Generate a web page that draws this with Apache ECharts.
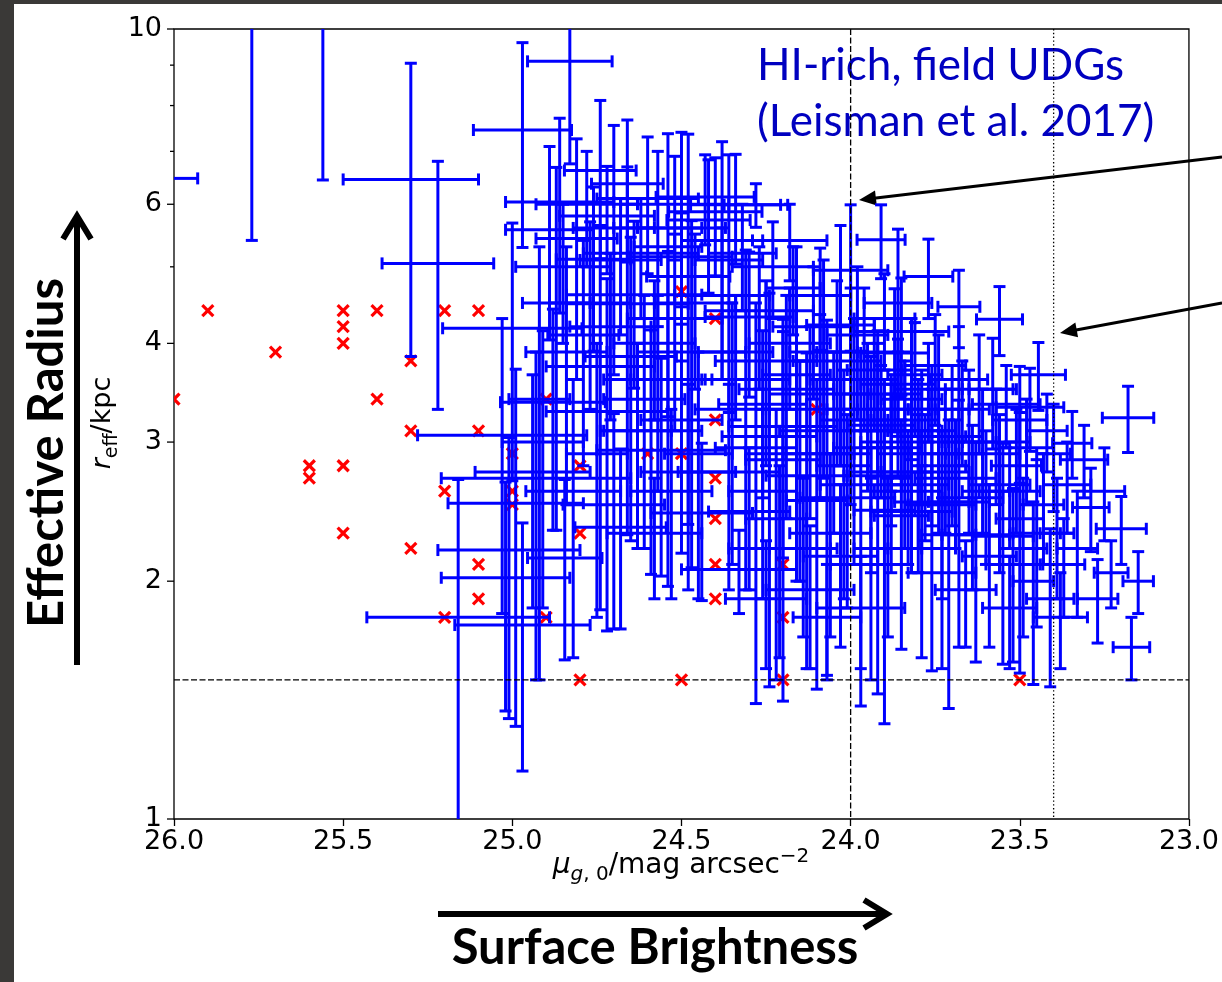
<!DOCTYPE html>
<html>
<head>
<meta charset="utf-8">
<script src="https://cdn.jsdelivr.net/npm/echarts@6/dist/echarts.min.js"></script>
<style>
  html, body { margin: 0; padding: 0; background: #fff; }
  #chart { width: 1222px; height: 982px; }
</style>
</head>
<body>
<div id="chart"></div>
<script>
// Cluster UDGs: [mu_g0 (mag/arcsec^2), r_eff (kpc)]
const clusterPoints = [
  [26.0, 3.4], [25.9, 4.4], [25.7, 3.9], [25.6, 2.8], [25.6, 2.7],
  [25.5, 4.4], [25.5, 4.2], [25.5, 4.0], [25.5, 2.8], [25.5, 2.3],
  [25.4, 4.4], [25.4, 3.4], [25.3, 3.8], [25.3, 3.1], [25.3, 2.2],
  [25.2, 4.4], [25.2, 2.6], [25.2, 1.8], [25.1, 4.4], [25.1, 3.1],
  [25.1, 2.1], [25.1, 1.9], [25.0, 2.9], [25.0, 2.6], [25.0, 2.5],
  [24.9, 3.4], [24.9, 1.8], [24.8, 2.8], [24.8, 2.3], [24.8, 1.5],
  [24.6, 2.9], [24.5, 4.65], [24.5, 2.9], [24.5, 1.5], [24.4, 4.3],
  [24.4, 3.2], [24.4, 2.7], [24.4, 2.4], [24.4, 2.1], [24.4, 1.9],
  [24.2, 2.1], [24.2, 1.8], [24.2, 1.5], [24.1, 3.3], [23.5, 1.5]
];

// HI-rich field UDGs: [mu_g0, mu error, r_eff, r_eff error]
const udgOuter = [
  [26.15, 0.22, 6.47, 1.0], [25.77, 0.10, 11.0, 5.6], [25.56, 0.10, 12.0, 5.56],
  [25.30, 0.20, 6.45, 2.6], [25.22, 0.165, 5.05, 1.75], [24.97, 0.145, 7.45, 2.16],
  [24.83, 0.125, 9.1, 2.35], [25.00, 0.206, 4.18, 1.5], [25.03, 0.25, 3.06, 1.24],
  [24.94, 0.17, 2.75, 0.9], [24.93, 0.28, 2.70, 1.2], [25.16, 0.27, 1.80, 0.89],
  [25.01, 0.21, 2.19, 0.85], [24.99, 0.20, 2.51, 1.2], [25.02, 0.19, 2.02, 0.65],
  [24.97, 0.20, 1.76, 0.61]
];
const udgWest = [
  [24.86, 0.16, 6.04, 1.67], [24.89, 0.13, 5.57, 1.53], [24.81, 0.12, 5.43, 1.83],
  [24.76, 0.11, 5.11, 1.2], [24.74, 0.106, 6.62, 1.5], [24.66, 0.106, 6.37, 1.3],
  [24.70, 0.12, 5.6, 1.95], [24.54, 0.10, 5.3, 2.07], [24.50, 0.13, 5.6, 1.8],
  [24.48, 0.123, 4.86, 2.5], [24.43, 0.145, 6.13, 0.8], [24.38, 0.12, 5.4, 1.8],
  [24.34, 0.133, 5.99, 0.95], [24.36, 0.10, 5.1, 1.83], [24.40, 0.138, 5.87, 1.0],
  [24.42, 0.123, 5.73, 1.1], [24.64, 0.20, 4.61, 1.1], [24.74, 0.16, 3.74, 1.9],
  [24.88, 0.155, 3.37, 1.05], [24.72, 0.18, 3.28, 1.55], [24.56, 0.19, 2.93, 0.9],
  [24.66, 0.18, 4.49, 2.2], [24.65, 0.135, 3.85, 1.6], [24.79, 0.105, 4.10, 1.3],
  [24.845, 0.11, 2.14, 0.55], [24.68, 0.135, 2.34, 0.6], [24.44, 0.15, 2.44, 0.55],
  [24.61, 0.12, 3.4, 1.2], [24.59, 0.15, 3.1, 1.06], [24.54, 0.11, 3.6, 1.63],
  [24.50, 0.12, 3.2, 1.03], [24.47, 0.16, 3.9, 1.82], [24.45, 0.10, 2.9, 1.0],
  [24.82, 0.14, 2.6, 1.0], [24.75, 0.09, 2.9, 1.1], [24.70, 0.15, 2.5, 0.76],
  [24.91, 0.12, 3.0, 1.15], [24.92, 0.09, 3.4, 1.9], [24.87, 0.10, 4.5, 2.18],
  [24.62, 0.17, 5.2, 0.9], [24.58, 0.12, 4.0, 0.8], [24.52, 0.14, 4.3, 1.2],
  [24.78, 0.15, 6.0, 1.0], [24.72, 0.14, 5.8, 0.9], [24.60, 0.15, 6.1, 1.2],
  [24.57, 0.13, 5.6, 1.4], [24.52, 0.16, 6.0, 0.9], [24.68, 0.12, 5.1, 1.0],
  [24.63, 0.10, 3.1, 0.9], [24.57, 0.16, 3.6, 1.0], [24.53, 0.12, 2.6, 0.7],
  [24.48, 0.14, 2.75, 0.8], [24.77, 0.12, 4.5, 1.2], [24.84, 0.12, 3.9, 1.4],
  [24.71, 0.12, 4.2, 1.0], [24.46, 0.12, 4.5, 1.0], [24.58, 0.14, 2.3, 0.4],
  [24.85, 0.14, 5.0, 1.0], [24.50, 0.15, 5.15, 0.7]
];
const udgCore = [
  [24.28, 0.094, 5.99, 0.38], [24.28, 0.12, 2.95, 1.55], [24.31, 0.13, 3.6, 1.65],
  [24.24, 0.14, 3.05, 1.58], [24.20, 0.11, 2.85, 1.44], [24.16, 0.10, 3.65, 1.65],
  [24.13, 0.12, 2.72, 1.17], [24.10, 0.09, 2.53, 1.07], [24.07, 0.13, 2.9, 1.38],
  [24.03, 0.10, 4.22, 1.42], [24.00, 0.11, 4.95, 1.04], [24.00, 0.12, 3.6, 1.1],
  [23.97, 0.12, 2.65, 1.26], [23.92, 0.10, 2.72, 1.28], [23.91, 0.071, 5.41, 0.58],
  [23.90, 0.09, 2.46, 1.14], [23.86, 0.10, 4.5, 1.08], [23.85, 0.08, 2.42, 0.78],
  [24.17, 0.08, 4.7, 0.6], [24.20, 0.16, 3.14, 1.0], [23.85, 0.14, 4.14, 0.7],
  [23.87, 0.10, 3.89, 0.8], [24.33, 0.17, 2.07, 0.25], [24.30, 0.13, 4.32, 0.9],
  [24.25, 0.15, 3.8, 1.0], [24.12, 0.14, 3.3, 0.9], [24.08, 0.10, 3.9, 1.2],
  [24.05, 0.16, 3.1, 0.8], [24.02, 0.08, 2.8, 0.9], [24.09, 0.09, 4.6, 0.68],
  [24.18, 0.12, 4.0, 0.7], [24.22, 0.09, 2.4, 0.9], [24.35, 0.11, 3.3, 1.2],
  [24.26, 0.10, 2.6, 0.7], [23.95, 0.12, 3.3, 0.7], [23.93, 0.08, 3.7, 0.6],
  [23.88, 0.15, 3.1, 0.5], [23.82, 0.09, 3.4, 0.9], [23.80, 0.12, 2.9, 0.7],
  [23.98, 0.09, 4.1, 0.9], [24.06, 0.12, 2.3, 0.6], [24.14, 0.10, 2.2, 0.5],
  [23.89, 0.10, 2.2, 0.5],
  [24.38, 0.14, 4.6, 1.0], [24.32, 0.10, 5.2, 0.8], [24.27, 0.16, 4.4, 0.9],
  [24.23, 0.12, 5.0, 0.7], [24.19, 0.14, 3.5, 1.1], [24.15, 0.16, 2.9, 0.9],
  [24.11, 0.12, 4.2, 0.8], [24.09, 0.15, 3.45, 0.9], [24.04, 0.13, 3.8, 1.0],
  [24.01, 0.14, 2.55, 0.7], [23.99, 0.10, 3.2, 1.1], [23.96, 0.14, 3.9, 0.8],
  [23.94, 0.11, 2.95, 0.9], [23.92, 0.13, 3.45, 0.7], [23.90, 0.09, 4.3, 0.6],
  [23.88, 0.12, 2.75, 0.7], [23.86, 0.09, 3.3, 0.6], [23.84, 0.13, 3.0, 0.8],
  [23.83, 0.10, 2.6, 0.5], [23.81, 0.08, 3.65, 0.6], [23.79, 0.10, 3.1, 0.6],
  [23.78, 0.13, 2.75, 0.5], [24.36, 0.15, 2.75, 0.8], [24.30, 0.12, 2.45, 0.5],
  [24.26, 0.13, 3.35, 0.8], [24.21, 0.15, 2.2, 0.6], [24.12, 0.13, 1.95, 0.4],
  [24.03, 0.11, 2.15, 0.5], [23.94, 0.12, 2.1, 0.6], [23.97, 0.13, 1.85, 0.3],
  [24.07, 0.10, 1.8, 0.3], [24.25, 0.12, 1.9, 0.35], [24.34, 0.11, 3.9, 0.7],
  [24.18, 0.11, 5.4, 0.6],
  [23.84, 0.10, 3.2, 0.5], [23.80, 0.09, 2.65, 0.6], [23.77, 0.10, 3.5, 0.5],
  [23.74, 0.08, 2.8, 0.5], [23.88, 0.09, 2.95, 0.6], [23.82, 0.12, 2.45, 0.4],
  [23.76, 0.10, 3.05, 0.7], [23.73, 0.10, 2.5, 0.6], [23.86, 0.11, 3.55, 0.5],
  [23.91, 0.10, 3.15, 0.6]
];
const udgEast = [
  [23.77, 0.072, 4.86, 0.56], [23.76, 0.11, 2.52, 0.98], [23.71, 0.08, 2.29, 0.91],
  [23.68, 0.062, 4.45, 0.5], [23.68, 0.09, 2.52, 0.87], [23.68, 0.085, 3.6, 0.6],
  [23.63, 0.10, 2.29, 0.71], [23.58, 0.07, 3.5, 0.56], [23.56, 0.068, 4.29, 0.43],
  [23.55, 0.09, 2.28, 0.71], [23.52, 0.08, 2.10, 0.52], [23.50, 0.07, 2.40, 0.87],
  [23.50, 0.08, 3.20, 0.54], [23.47, 0.10, 3.32, 0.4], [23.51, 0.074, 2.8, 0.5],
  [23.46, 0.06, 2.00, 0.52], [23.445, 0.08, 3.65, 0.36], [23.41, 0.07, 1.90, 0.43],
  [23.37, 0.062, 2.10, 0.3], [23.345, 0.058, 2.99, 0.29], [23.29, 0.054, 2.48, 0.3],
  [23.27, 0.06, 1.90, 0.23], [23.20, 0.074, 2.33, 0.23], [23.18, 0.076, 3.22, 0.31],
  [23.15, 0.045, 2.00, 0.18], [23.17, 0.054, 1.65, 0.15], [23.74, 0.09, 3.3, 0.8],
  [23.72, 0.11, 2.9, 0.6], [23.65, 0.08, 3.0, 0.7], [23.62, 0.10, 3.5, 0.6],
  [23.60, 0.07, 2.6, 0.5], [23.57, 0.10, 3.0, 0.5], [23.79, 0.10, 2.2, 0.6],
  [23.66, 0.09, 1.95, 0.3], [23.53, 0.09, 2.6, 0.4], [23.43, 0.06, 2.5, 0.4],
  [23.40, 0.05, 2.9, 0.45], [23.38, 0.08, 1.8, 0.25],
  [23.75, 0.09, 3.75, 0.6], [23.73, 0.10, 2.05, 0.5], [23.70, 0.09, 3.05, 0.7],
  [23.69, 0.12, 2.7, 0.5], [23.67, 0.08, 3.3, 0.5], [23.64, 0.09, 2.55, 0.6],
  [23.61, 0.11, 2.9, 0.6], [23.59, 0.08, 2.15, 0.5], [23.56, 0.09, 2.65, 0.6],
  [23.54, 0.10, 3.35, 0.4], [23.53, 0.08, 1.85, 0.3], [23.49, 0.07, 2.2, 0.5],
  [23.48, 0.08, 2.95, 0.45], [23.45, 0.07, 2.3, 0.55], [23.42, 0.06, 3.1, 0.35],
  [23.39, 0.05, 2.3, 0.4], [23.36, 0.07, 2.65, 0.35], [23.33, 0.06, 2.2, 0.4],
  [23.31, 0.07, 2.85, 0.3], [23.25, 0.06, 2.6, 0.35], [23.23, 0.05, 2.05, 0.2]
];

// Log-axis ticks on r_eff and the ones that carry a label
const yTickValues = [1, 2, 3, 4, 5, 6, 7, 8, 9, 10];
const yTickLabels = { 1: '1', 2: '2', 3: '3', 4: '4', 6: '6', 10: '10' };

// Selection limits: mu cuts (dashed / dotted) and the r_eff floor
const muCuts = [24.0, 23.4];
const reffCut = 1.5;

const BLUE = '#0000ff';
const TICK_FONT = '27px "DejaVu Sans"';
const chart = echarts.init(document.getElementById('chart'), null, { renderer: 'canvas' });

function gridBox(params) {
  const cs = params.coordSys;
  return { l: cs.x, r: cs.x + cs.width, t: cs.y, b: cs.y + cs.height };
}

function seg(x1, y1, x2, y2, stroke, lw, dash) {
  return {
    type: 'line',
    shape: { x1, y1, x2, y2 },
    style: { stroke, lineWidth: lw, lineDash: dash || null, lineCap: 'butt' }
  };
}

function renderErrorBar(params, api) {
  const g = gridBox(params);
  const mu = api.value(0), muErr = api.value(1), r = api.value(2), rErr = api.value(3);
  const c = api.coord([mu, r]);
  const a = api.coord([mu + muErr, r]);
  const b = api.coord([mu - muErr, r]);
  const top = api.coord([mu, r + rErr]);
  const bot = api.coord([mu, Math.max(r - rErr, 0.05)]);
  const cap = 6, lw = 3;
  const kids = [];
  if (c[1] >= g.t - 0.5 && c[1] <= g.b + 0.5) {
    const xa = Math.min(a[0], b[0]), xb = Math.max(a[0], b[0]);
    const x1 = Math.max(xa, g.l), x2 = Math.min(xb, g.r);
    if (x2 > x1) kids.push(seg(x1, c[1], x2, c[1], BLUE, lw));
    [xa, xb].forEach(function (x) {
      if (x >= g.l - 0.5 && x <= g.r + 0.5) {
        kids.push(seg(x, Math.max(c[1] - cap, g.t), x, Math.min(c[1] + cap, g.b), BLUE, lw));
      }
    });
  }
  if (c[0] >= g.l - 0.5 && c[0] <= g.r + 0.5) {
    const y1 = Math.max(top[1], g.t), y2 = Math.min(bot[1], g.b);
    if (y2 > y1) kids.push(seg(c[0], y1, c[0], y2, BLUE, lw));
    [top[1], bot[1]].forEach(function (y) {
      if (y >= g.t - 0.5 && y <= g.b + 0.5) {
        kids.push(seg(Math.max(c[0] - cap, g.l), y, Math.min(c[0] + cap, g.r), y, BLUE, lw));
      }
    });
  }
  return { type: 'group', children: kids };
}

function renderCross(params, api) {
  const p = api.coord([api.value(0), api.value(1)]);
  const s = 5.5;
  return {
    type: 'group',
    children: [
      seg(p[0] - s, p[1] - s, p[0] + s, p[1] + s, '#ff0000', 3.2),
      seg(p[0] - s, p[1] + s, p[0] + s, p[1] - s, '#ff0000', 3.2)
    ]
  };
}

function renderCut(params, api) {
  const g = gridBox(params);
  const kind = api.value(2);
  if (kind === 2) {
    const y = api.coord([25, api.value(1)])[1];
    return seg(g.l, y, g.r, y, '#000', 1.3, [6, 2.5]);
  }
  const x = api.coord([api.value(0), 2])[0];
  return seg(x, g.t, x, g.b, '#000', 1.3, kind === 0 ? [6, 2.5] : [1.4, 2.4]);
}

function renderYTick(params, api) {
  const g = gridBox(params);
  const v = api.value(1);
  const y = api.coord([25, v])[1];
  const label = yTickLabels[v];
  const len = label ? 7 : 4;
  const kids = [seg(g.l - len, y, g.l, y, '#000', 1.3)];
  if (label) {
    kids.push({
      type: 'text',
      x: g.l - 12,
      y: y,
      style: { text: label, font: TICK_FONT, fill: '#000', align: 'right', verticalAlign: 'middle' }
    });
  }
  return { type: 'group', children: kids };
}

function pointerArrow(x1, y1, x2, y2) {
  const dx = x2 - x1, dy = y2 - y1, L = Math.hypot(dx, dy);
  const ux = dx / L, uy = dy / L, head = 17, half = 7.5;
  const bx = x2 - ux * head, by = y2 - uy * head;
  return [
    { type: 'line', shape: { x1, y1, x2: bx + ux * 2, y2: by + uy * 2 }, style: { stroke: '#000', lineWidth: 3 } },
    {
      type: 'polygon',
      shape: { points: [[x2, y2], [bx - uy * half, by + ux * half], [bx + uy * half, by - ux * half]] },
      style: { fill: '#000' }
    }
  ];
}

const udgAll = [].concat(udgOuter, udgWest, udgCore, udgEast);
const cutData = muCuts.map(function (m, i) { return [m, 2, i]; }).concat([[25, reffCut, 2]]);

const mathFont = 'DejaVu Sans';
const graphics = [
  { type: 'rect', shape: { x: 0, y: 0, width: 14, height: 982 }, style: { fill: '#3a3937' } },
  { type: 'rect', shape: { x: 0, y: 0, width: 1222, height: 4 }, style: { fill: '#3a3937' } },
  // slide annotation
  {
    type: 'text', x: 757, y: 44,
    style: { text: 'HI-rich, field UDGs', font: '44px Lato', fill: '#0000c0', align: 'left', verticalAlign: 'top' }
  },
  {
    type: 'text', x: 757, y: 100,
    style: { text: '(Leisman et al. 2017)', font: '44px Lato', fill: '#0000c0', align: 'left', verticalAlign: 'top' }
  },
  // big axis captions
  {
    type: 'text', x: 47, y: 453, rotation: Math.PI / 2,
    style: { text: 'Effective Radius', font: 'bold 49px Lato', fill: '#000', align: 'center', verticalAlign: 'middle' }
  },
  {
    type: 'text', x: 655, y: 948,
    style: { text: 'Surface Brightness', font: 'bold 49px Lato', fill: '#000', align: 'center', verticalAlign: 'middle' }
  },
  // axis titles
  {
    type: 'text', x: 103, y: 423, rotation: Math.PI / 2,
    style: {
      text: '{i|r}{s|eff}{n|/kpc}',
      align: 'center', verticalAlign: 'middle', fill: '#000',
      rich: {
        i: { fontFamily: mathFont, fontSize: 27, fontStyle: 'italic', lineHeight: 37, verticalAlign: 'middle' },
        s: { fontFamily: mathFont, fontSize: 19, lineHeight: 19, verticalAlign: 'bottom' },
        n: { fontFamily: mathFont, fontSize: 27, lineHeight: 37, verticalAlign: 'middle' }
      }
    }
  },
  {
    type: 'text', x: 681, y: 866,
    style: {
      text: '{i|μ}{si|g}{s|, 0}{n|/mag arcsec}{p|−2}',
      align: 'center', verticalAlign: 'middle', fill: '#000',
      rich: {
        i: { fontFamily: mathFont, fontSize: 28, fontStyle: 'italic', lineHeight: 38, verticalAlign: 'middle' },
        si: { fontFamily: mathFont, fontSize: 20, fontStyle: 'italic', lineHeight: 20, verticalAlign: 'bottom' },
        s: { fontFamily: mathFont, fontSize: 20, lineHeight: 20, verticalAlign: 'bottom' },
        n: { fontFamily: mathFont, fontSize: 28, lineHeight: 38, verticalAlign: 'middle' },
        p: { fontFamily: mathFont, fontSize: 20, lineHeight: 20, verticalAlign: 'top' }
      }
    }
  },
  // thick direction arrows
  { type: 'line', shape: { x1: 77, y1: 665, x2: 77, y2: 218 }, style: { stroke: '#000', lineWidth: 6 } },
  { type: 'polyline', shape: { points: [[63, 239], [77, 216], [91, 239]] }, style: { stroke: '#000', lineWidth: 6, lineJoin: 'miter', fill: null } },
  { type: 'line', shape: { x1: 438, y1: 914, x2: 884, y2: 914 }, style: { stroke: '#000', lineWidth: 6 } },
  { type: 'polyline', shape: { points: [[864, 900], [887, 914], [864, 928]] }, style: { stroke: '#000', lineWidth: 6, lineJoin: 'miter', fill: null } }
].concat(pointerArrow(1222, 157, 859, 200), pointerArrow(1222, 303, 1060, 333));

chart.setOption({
  animation: false,
  backgroundColor: '#ffffff',
  grid: { left: 174, right: 33, top: 29, bottom: 163, show: true, borderColor: '#000', borderWidth: 1.3, backgroundColor: 'transparent' },
  xAxis: {
    type: 'value', min: 23, max: 26, interval: 0.5, inverse: true,
    axisLine: { show: false },
    splitLine: { show: false },
    axisTick: { show: true, length: 7, lineStyle: { color: '#000', width: 1.3 } },
    axisLabel: { formatter: function (v) { return v.toFixed(1); }, fontSize: 27, color: '#000', fontFamily: 'DejaVu Sans', margin: 9 }
  },
  yAxis: {
    type: 'log', logBase: 10, min: 1, max: 10,
    axisLine: { show: false }, axisTick: { show: false }, axisLabel: { show: false }, splitLine: { show: false }
  },
  graphic: graphics,
  series: [
    { type: 'custom', name: 'cluster', z: 2, clip: true, data: clusterPoints, encode: { x: 0, y: 1 }, renderItem: renderCross },
    { type: 'custom', name: 'field', z: 3, clip: true, data: udgAll, encode: { x: 0, y: 2 }, renderItem: renderErrorBar },
    { type: 'custom', name: 'cuts', z: 4, data: cutData, encode: { x: 0, y: 1 }, renderItem: renderCut },
    { type: 'custom', name: 'yticks', z: 5, data: yTickValues.map(function (v) { return [25, v]; }), encode: { x: 0, y: 1 }, renderItem: renderYTick }
  ]
});
</script>
</body>
</html>
